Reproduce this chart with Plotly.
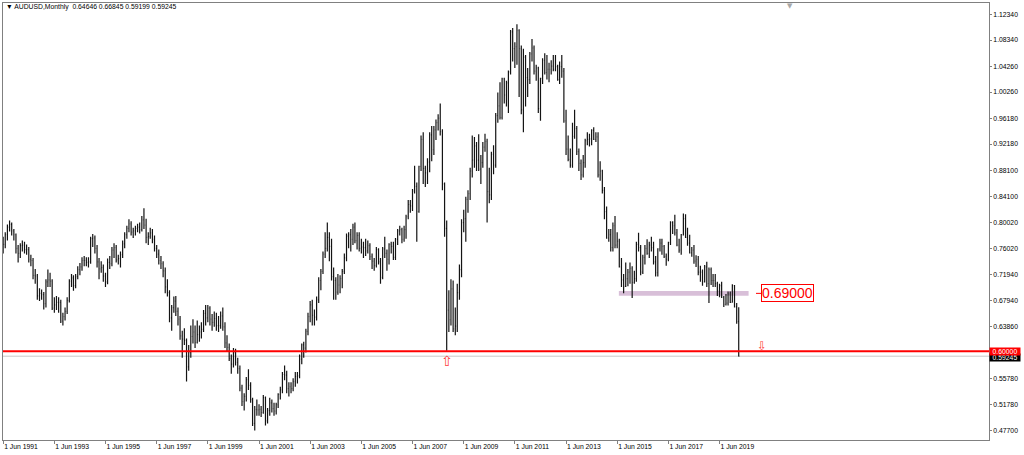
import pandas as pd
import plotly.graph_objects as go

# ---------------- data ----------------
symbol = "AUDUSD,Monthly"
first_month = "1991-06-01"

opens = [
    0.770, 0.766, 0.781, 0.793, 0.797, 0.787, 0.781,
    0.760, 0.752, 0.764, 0.765, 0.758, 0.758, 0.743, 0.741, 0.718, 0.717, 0.686, 0.690,
    0.688, 0.674, 0.708, 0.711, 0.709, 0.667, 0.672, 0.676, 0.676, 0.647, 0.654, 0.662,
    0.679, 0.709, 0.714, 0.702, 0.716, 0.727, 0.731, 0.741, 0.741, 0.738, 0.739, 0.775,
    0.776, 0.760, 0.739, 0.728, 0.730, 0.717, 0.708, 0.738, 0.736, 0.757, 0.761, 0.742,
    0.744, 0.750, 0.767, 0.781, 0.791, 0.798, 0.785, 0.787, 0.791, 0.793, 0.789, 0.804,
    0.796, 0.777, 0.778, 0.784, 0.774, 0.760, 0.751, 0.741, 0.736, 0.725, 0.700, 0.691,
    0.652, 0.668, 0.678, 0.662, 0.650, 0.624, 0.619, 0.617, 0.576, 0.598, 0.623, 0.630,
    0.614, 0.626, 0.630, 0.634, 0.659, 0.652, 0.667, 0.650, 0.645, 0.651, 0.640, 0.640,
    0.655, 0.638, 0.613, 0.606, 0.589, 0.580, 0.598, 0.583, 0.573, 0.543, 0.522, 0.530,
    0.556, 0.547, 0.525, 0.488, 0.510, 0.509, 0.510, 0.505, 0.528, 0.492, 0.508, 0.520,
    0.511, 0.507, 0.517, 0.533, 0.540, 0.564, 0.563, 0.542, 0.545, 0.542, 0.553, 0.561,
    0.562, 0.588, 0.610, 0.605, 0.631, 0.654, 0.672, 0.656, 0.653, 0.680, 0.710, 0.724,
    0.751, 0.760, 0.777, 0.763, 0.716, 0.710, 0.692, 0.703, 0.713, 0.724, 0.745, 0.779,
    0.781, 0.774, 0.793, 0.772, 0.780, 0.760, 0.762, 0.761, 0.756, 0.764, 0.747, 0.740,
    0.733, 0.758, 0.739, 0.715, 0.759, 0.752, 0.743, 0.766, 0.763, 0.746, 0.774, 0.787,
    0.789, 0.774, 0.789, 0.809, 0.828, 0.826, 0.849, 0.856, 0.817, 0.887, 0.929, 0.884,
    0.877, 0.894, 0.936, 0.913, 0.944, 0.955, 0.962, 0.941, 0.860, 0.791, 0.664, 0.649,
    0.697, 0.635, 0.639, 0.691, 0.727, 0.800, 0.806, 0.836, 0.845, 0.880, 0.897, 0.919,
    0.897, 0.883, 0.893, 0.917, 0.926, 0.848, 0.843, 0.906, 0.889, 0.966, 0.981, 0.963,
    1.023, 0.998, 1.017, 1.034, 1.096, 1.070, 1.073, 1.098, 1.070, 0.975, 1.057, 1.025,
    1.022, 1.062, 1.071, 1.035, 1.040, 0.977, 1.024, 1.052, 1.033, 1.038, 1.038, 1.043,
    1.038, 1.042, 1.022, 1.042, 1.035, 0.958, 0.914, 0.898, 0.889, 0.934, 0.946, 0.910,
    0.892, 0.874, 0.893, 0.927, 0.929, 0.930, 0.943, 0.929, 0.933, 0.874, 0.880, 0.850,
    0.817, 0.776, 0.781, 0.761, 0.795, 0.765, 0.771, 0.731, 0.711, 0.701, 0.713, 0.723,
    0.729, 0.707, 0.713, 0.766, 0.761, 0.723, 0.746, 0.760, 0.752, 0.765, 0.761, 0.739,
    0.722, 0.759, 0.768, 0.763, 0.747, 0.743, 0.769, 0.800, 0.795, 0.784, 0.765, 0.757,
    0.781, 0.806, 0.777, 0.768, 0.753, 0.757, 0.740, 0.743, 0.723, 0.723, 0.708, 0.731,
    0.705, 0.727, 0.710, 0.710, 0.705, 0.694, 0.702, 0.684, 0.673, 0.675, 0.689, 0.676,
    0.702, 0.669, 0.64646,
]
highs = [
    0.778, 0.785, 0.797, 0.803, 0.800, 0.790, 0.783,
    0.765, 0.768, 0.772, 0.770, 0.766, 0.762, 0.750, 0.745, 0.728, 0.720, 0.698, 0.696,
    0.692, 0.712, 0.727, 0.722, 0.712, 0.684, 0.686, 0.684, 0.680, 0.660, 0.668, 0.684,
    0.712, 0.720, 0.718, 0.720, 0.732, 0.737, 0.746, 0.748, 0.746, 0.746, 0.778, 0.782,
    0.780, 0.765, 0.745, 0.740, 0.735, 0.722, 0.744, 0.748, 0.762, 0.768, 0.765, 0.750,
    0.755, 0.772, 0.785, 0.795, 0.805, 0.802, 0.792, 0.795, 0.798, 0.800, 0.810, 0.822,
    0.806, 0.785, 0.792, 0.790, 0.780, 0.765, 0.758, 0.748, 0.740, 0.730, 0.712, 0.695,
    0.672, 0.685, 0.686, 0.668, 0.655, 0.632, 0.636, 0.620, 0.610, 0.640, 0.650, 0.640,
    0.648, 0.640, 0.645, 0.664, 0.672, 0.672, 0.670, 0.658, 0.662, 0.660, 0.655, 0.662,
    0.668, 0.645, 0.625, 0.612, 0.595, 0.605, 0.604, 0.590, 0.578, 0.548, 0.535, 0.560,
    0.572, 0.552, 0.528, 0.515, 0.525, 0.518, 0.515, 0.532, 0.530, 0.512, 0.528, 0.525,
    0.520, 0.520, 0.535, 0.545, 0.568, 0.578, 0.570, 0.552, 0.552, 0.558, 0.568, 0.568,
    0.595, 0.612, 0.615, 0.635, 0.660, 0.678, 0.680, 0.665, 0.685, 0.715, 0.728, 0.755,
    0.785, 0.800, 0.785, 0.775, 0.730, 0.715, 0.720, 0.718, 0.728, 0.752, 0.783, 0.785,
    0.790, 0.798, 0.800, 0.785, 0.785, 0.775, 0.770, 0.775, 0.772, 0.768, 0.752, 0.745,
    0.762, 0.760, 0.745, 0.762, 0.778, 0.758, 0.768, 0.770, 0.770, 0.776, 0.790, 0.795,
    0.792, 0.795, 0.812, 0.835, 0.835, 0.852, 0.888, 0.862, 0.888, 0.935, 0.940, 0.888,
    0.900, 0.940, 0.950, 0.950, 0.960, 0.968, 0.985, 0.945, 0.862, 0.803, 0.695, 0.712,
    0.710, 0.668, 0.705, 0.735, 0.805, 0.820, 0.840, 0.850, 0.885, 0.935, 0.933, 0.925,
    0.937, 0.905, 0.925, 0.938, 0.930, 0.885, 0.910, 0.920, 0.970, 1.002, 1.018, 1.025,
    1.025, 1.020, 1.036, 1.099, 1.102, 1.080, 1.108, 1.100, 1.075, 1.070, 1.060, 1.040,
    1.065, 1.085, 1.075, 1.045, 1.042, 1.025, 1.055, 1.063, 1.060, 1.048, 1.052, 1.060,
    1.060, 1.045, 1.050, 1.060, 1.040, 0.975, 0.935, 0.915, 0.955, 0.975, 0.950, 0.915,
    0.898, 0.905, 0.930, 0.940, 0.938, 0.945, 0.948, 0.940, 0.940, 0.895, 0.882, 0.855,
    0.825, 0.790, 0.790, 0.800, 0.810, 0.785, 0.775, 0.745, 0.720, 0.738, 0.728, 0.738,
    0.732, 0.725, 0.770, 0.784, 0.765, 0.750, 0.765, 0.774, 0.770, 0.778, 0.770, 0.748,
    0.760, 0.775, 0.775, 0.765, 0.752, 0.770, 0.802, 0.802, 0.812, 0.790, 0.775, 0.782,
    0.814, 0.813, 0.792, 0.781, 0.762, 0.765, 0.749, 0.748, 0.733, 0.727, 0.734, 0.739,
    0.730, 0.730, 0.720, 0.720, 0.708, 0.705, 0.708, 0.686, 0.689, 0.693, 0.693, 0.704,
    0.703, 0.675, 0.66845,
]
lows = [
    0.752, 0.760, 0.772, 0.786, 0.780, 0.772, 0.752,
    0.738, 0.745, 0.755, 0.752, 0.750, 0.738, 0.732, 0.712, 0.705, 0.680, 0.678, 0.680,
    0.665, 0.668, 0.700, 0.700, 0.664, 0.660, 0.664, 0.660, 0.644, 0.640, 0.648, 0.658,
    0.676, 0.700, 0.694, 0.698, 0.712, 0.718, 0.725, 0.732, 0.732, 0.730, 0.736, 0.762,
    0.752, 0.730, 0.712, 0.722, 0.708, 0.700, 0.704, 0.728, 0.732, 0.745, 0.738, 0.735,
    0.730, 0.745, 0.760, 0.775, 0.785, 0.780, 0.776, 0.780, 0.785, 0.783, 0.786, 0.790,
    0.768, 0.765, 0.775, 0.768, 0.755, 0.745, 0.735, 0.728, 0.715, 0.690, 0.685, 0.645,
    0.632, 0.660, 0.655, 0.640, 0.618, 0.590, 0.610, 0.553, 0.570, 0.590, 0.612, 0.605,
    0.612, 0.615, 0.620, 0.630, 0.640, 0.645, 0.640, 0.632, 0.638, 0.632, 0.630, 0.635,
    0.632, 0.605, 0.600, 0.585, 0.565, 0.575, 0.578, 0.565, 0.538, 0.515, 0.508, 0.522,
    0.540, 0.520, 0.484, 0.477, 0.500, 0.500, 0.498, 0.503, 0.485, 0.488, 0.500, 0.505,
    0.500, 0.502, 0.512, 0.525, 0.535, 0.555, 0.535, 0.530, 0.535, 0.538, 0.545, 0.550,
    0.558, 0.580, 0.590, 0.598, 0.625, 0.645, 0.640, 0.640, 0.648, 0.675, 0.695, 0.720,
    0.745, 0.755, 0.740, 0.710, 0.680, 0.680, 0.688, 0.690, 0.698, 0.720, 0.740, 0.760,
    0.755, 0.765, 0.768, 0.758, 0.755, 0.752, 0.745, 0.748, 0.752, 0.742, 0.728, 0.725,
    0.730, 0.735, 0.705, 0.712, 0.745, 0.725, 0.735, 0.752, 0.742, 0.742, 0.765, 0.780,
    0.768, 0.770, 0.775, 0.805, 0.815, 0.818, 0.845, 0.770, 0.815, 0.880, 0.860, 0.855,
    0.860, 0.878, 0.895, 0.905, 0.928, 0.943, 0.935, 0.850, 0.778, 0.601, 0.630, 0.640,
    0.630, 0.625, 0.630, 0.680, 0.715, 0.785, 0.770, 0.815, 0.835, 0.870, 0.885, 0.880,
    0.880, 0.860, 0.885, 0.910, 0.800, 0.830, 0.835, 0.875, 0.885, 0.955, 0.960, 0.960,
    0.985, 0.980, 0.970, 1.030, 1.050, 1.040, 1.045, 0.995, 0.968, 0.940, 0.980, 0.995,
    1.015, 1.050, 1.030, 1.020, 0.970, 0.958, 1.015, 1.030, 1.022, 1.018, 1.030, 1.035,
    1.035, 1.020, 1.015, 1.025, 0.955, 0.905, 0.895, 0.885, 0.885, 0.930, 0.905, 0.880,
    0.866, 0.870, 0.885, 0.920, 0.918, 0.920, 0.928, 0.925, 0.870, 0.865, 0.845, 0.805,
    0.775, 0.770, 0.755, 0.755, 0.760, 0.760, 0.730, 0.700, 0.690, 0.700, 0.701, 0.705,
    0.683, 0.705, 0.708, 0.755, 0.718, 0.720, 0.735, 0.750, 0.745, 0.755, 0.735, 0.716,
    0.716, 0.755, 0.750, 0.745, 0.733, 0.740, 0.765, 0.782, 0.780, 0.763, 0.753, 0.750,
    0.780, 0.776, 0.764, 0.752, 0.747, 0.736, 0.731, 0.718, 0.708, 0.702, 0.707, 0.700,
    0.675, 0.703, 0.700, 0.700, 0.686, 0.684, 0.683, 0.669, 0.671, 0.671, 0.675, 0.676,
    0.668, 0.643, 0.59199,
]
closes = [
    0.766, 0.781, 0.793, 0.797, 0.787, 0.781, 0.760,
    0.752, 0.764, 0.765, 0.758, 0.758, 0.743, 0.741, 0.718, 0.717, 0.686, 0.690, 0.688,
    0.674, 0.708, 0.711, 0.709, 0.667, 0.672, 0.676, 0.676, 0.647, 0.654, 0.662, 0.679,
    0.709, 0.714, 0.702, 0.716, 0.727, 0.731, 0.741, 0.741, 0.738, 0.739, 0.775, 0.776,
    0.760, 0.739, 0.728, 0.730, 0.717, 0.708, 0.738, 0.736, 0.757, 0.761, 0.742, 0.744,
    0.750, 0.767, 0.781, 0.791, 0.798, 0.785, 0.787, 0.791, 0.793, 0.789, 0.804, 0.796,
    0.777, 0.778, 0.784, 0.774, 0.760, 0.751, 0.741, 0.736, 0.725, 0.700, 0.691, 0.652,
    0.668, 0.678, 0.662, 0.650, 0.624, 0.619, 0.617, 0.576, 0.598, 0.623, 0.630, 0.614,
    0.626, 0.630, 0.634, 0.659, 0.652, 0.667, 0.650, 0.645, 0.651, 0.640, 0.640, 0.655,
    0.638, 0.613, 0.606, 0.589, 0.580, 0.598, 0.583, 0.573, 0.543, 0.522, 0.530, 0.556,
    0.547, 0.525, 0.488, 0.510, 0.509, 0.510, 0.505, 0.528, 0.492, 0.508, 0.520, 0.511,
    0.507, 0.517, 0.533, 0.540, 0.564, 0.563, 0.542, 0.545, 0.542, 0.553, 0.561, 0.562,
    0.588, 0.610, 0.605, 0.631, 0.654, 0.672, 0.656, 0.653, 0.680, 0.710, 0.724, 0.751,
    0.760, 0.777, 0.763, 0.716, 0.710, 0.692, 0.703, 0.713, 0.724, 0.745, 0.779, 0.781,
    0.774, 0.793, 0.772, 0.780, 0.760, 0.762, 0.761, 0.756, 0.764, 0.747, 0.740, 0.733,
    0.758, 0.739, 0.715, 0.759, 0.752, 0.743, 0.766, 0.763, 0.746, 0.774, 0.787, 0.789,
    0.774, 0.789, 0.809, 0.828, 0.826, 0.849, 0.856, 0.817, 0.887, 0.929, 0.884, 0.877,
    0.894, 0.936, 0.913, 0.944, 0.955, 0.962, 0.941, 0.860, 0.791, 0.664, 0.649, 0.697,
    0.635, 0.639, 0.691, 0.727, 0.800, 0.806, 0.836, 0.845, 0.880, 0.897, 0.919, 0.897,
    0.883, 0.893, 0.917, 0.926, 0.848, 0.843, 0.906, 0.889, 0.966, 0.981, 0.963, 1.023,
    0.998, 1.017, 1.034, 1.096, 1.070, 1.073, 1.098, 1.070, 0.975, 1.057, 1.025, 1.022,
    1.062, 1.071, 1.035, 1.040, 0.977, 1.024, 1.052, 1.033, 1.038, 1.038, 1.043, 1.038,
    1.042, 1.022, 1.042, 1.035, 0.958, 0.914, 0.898, 0.889, 0.934, 0.946, 0.910, 0.892,
    0.874, 0.893, 0.927, 0.929, 0.930, 0.943, 0.929, 0.933, 0.874, 0.880, 0.850, 0.817,
    0.776, 0.781, 0.761, 0.795, 0.765, 0.771, 0.731, 0.711, 0.701, 0.713, 0.723, 0.729,
    0.707, 0.713, 0.766, 0.761, 0.723, 0.746, 0.760, 0.752, 0.765, 0.761, 0.739, 0.722,
    0.759, 0.768, 0.763, 0.747, 0.743, 0.769, 0.800, 0.795, 0.784, 0.765, 0.757, 0.781,
    0.806, 0.777, 0.768, 0.753, 0.757, 0.740, 0.743, 0.723, 0.723, 0.708, 0.731, 0.705,
    0.727, 0.710, 0.710, 0.705, 0.694, 0.702, 0.684, 0.673, 0.675, 0.689, 0.676, 0.702,
    0.669, 0.646, 0.59245,
]

price_ticks = [1.12340, 1.08340, 1.04260, 1.00260, 0.96180, 0.92180, 0.88100, 0.84100,
               0.80020, 0.76020, 0.71940, 0.67940, 0.63860, 0.55780, 0.51780, 0.47700]
tick_years = [1991, 1993, 1995, 1997, 1999, 2001, 2003, 2005, 2007, 2009, 2011, 2013,
              2015, 2017, 2019]

support_level = 0.60000
zone_level = 0.69000
zone_start, zone_end = "2015-06-25", "2020-07-20"
crash_low_month = "2008-10-01"
label_month = "2021-01-12"

# ---------------- figure ----------------
dates = pd.date_range(first_month, periods=len(closes), freq="MS")
FONT = "Liberation Sans, Arial, sans-serif"
BAR = "#141414"

fig = go.Figure(go.Ohlc(
    x=dates, open=opens, high=highs, low=lows, close=closes,
    increasing=dict(line=dict(color=BAR, width=1.2)),
    decreasing=dict(line=dict(color=BAR, width=1.2)),
    tickwidth=0.35, hoverinfo="skip", showlegend=False,
))

shapes = [
    dict(type="rect", xref="x", yref="y", x0=zone_start, x1=zone_end,
         y0=zone_level - 0.0038, y1=zone_level + 0.0038,
         fillcolor="#d8bfd8", line=dict(width=0), layer="below"),
    dict(type="line", xref="paper", yref="y", x0=0, x1=1,
         y0=closes[-1], y1=closes[-1], line=dict(color="#c8c8c8", width=1), layer="below"),
    dict(type="line", xref="paper", yref="y", x0=0, x1=1,
         y0=support_level, y1=support_level, line=dict(color="#ff0000", width=2), layer="above"),
    dict(type="line", xref="paper", yref="y", x0=0.7637, x1=0.7688,
         y0=zone_level, y1=zone_level, line=dict(color="#ff0000", width=1), layer="above"),
]

header = (f"\u25BC {symbol}  {opens[-1]:.5f} {highs[-1]:.5f} "
          f"{lows[-1]:.5f} {closes[-1]:.5f}")

annotations = [
    dict(text=header, xref="paper", yref="paper", x=0.001, y=0.991,
         xanchor="left", yanchor="middle", showarrow=False,
         font=dict(family=FONT, size=6.8, color="#000000")),
    dict(text="\u25BC", xref="paper", yref="paper", x=0.798, y=1.0,
         xanchor="center", yanchor="top", yshift=3, showarrow=False,
         font=dict(family="DejaVu Sans", size=7, color="#a8a8a8")),
    dict(text=f"{zone_level:.5f}", xref="x", yref="y", x=label_month, y=zone_level,
         xanchor="left", yanchor="middle", showarrow=False,
         font=dict(family=FONT, size=14, color="#ff0000"),
         bgcolor="#ffffff", bordercolor="#ff0000", borderwidth=1, borderpad=0),
    dict(text="\u21E7", xref="x", yref="y", x=crash_low_month, y=support_level,
         xanchor="center", yanchor="middle", yshift=-10, showarrow=False,
         font=dict(family="DejaVu Sans", size=14, color="#ff3b3b")),
    dict(text="\u21E9", xref="x", yref="y", x="2021-01-25", y=support_level,
         xanchor="center", yanchor="middle", yshift=5, showarrow=False,
         font=dict(family="DejaVu Sans", size=12, color="#ff3b3b")),
    dict(text=f"{closes[-1]:.5f}", xref="paper", yref="y", x=1.0, y=closes[-1],
         xanchor="left", yanchor="middle", yshift=-1, showarrow=False, width=30,
         align="center", font=dict(family=FONT, size=6.8, color="#ffffff"),
         bgcolor="#000000", borderpad=0),
    dict(text=f"{support_level:.5f}", xref="paper", yref="y", x=1.0, y=support_level,
         xanchor="left", yanchor="middle", showarrow=False, width=30,
         align="center", font=dict(family=FONT, size=6.8, color="#ffffff"),
         bgcolor="#ff0000", borderpad=0),
]

fig.update_layout(
    width=1024, height=455,
    margin=dict(l=3, r=35, t=3, b=15),
    paper_bgcolor="#ffffff", plot_bgcolor="#ffffff",
    shapes=shapes, annotations=annotations,
    showlegend=False,
    xaxis=dict(
        type="date", range=["1991-05-30", "2029-12-12"],
        rangeslider=dict(visible=False),
        tickvals=[f"{y}-06-01" for y in tick_years],
        ticktext=[f"1 Jun {y}" for y in tick_years],
        ticklabelposition="outside right",
        ticks="outside", ticklen=3, tickcolor="#808080",
        tickfont=dict(family=FONT, size=6.8, color="#000000"),
        showgrid=False, zeroline=False,
        showline=True, mirror=True, linecolor="#808080", linewidth=1,
    ),
    yaxis=dict(
        side="right", range=[0.4623, 1.1409],
        tickvals=price_ticks, ticktext=[f"{v:.5f}" for v in price_ticks],
        ticks="outside", ticklen=2, tickcolor="#808080",
        tickfont=dict(family=FONT, size=6.8, color="#000000"),
        showgrid=False, zeroline=False,
        showline=True, mirror=True, linecolor="#808080", linewidth=1,
    ),
)

fig.write_html("out.html", config={"displayModeBar": False})

# remove the browser's default page margin so the figure fills the window exactly
with open("out.html", "r", encoding="utf-8") as f:
    page = f.read()
page = page.replace("<head>", "<head><style>html,body{margin:0;padding:0;overflow:hidden;}</style>", 1)
with open("out.html", "w", encoding="utf-8") as f:
    f.write(page)
